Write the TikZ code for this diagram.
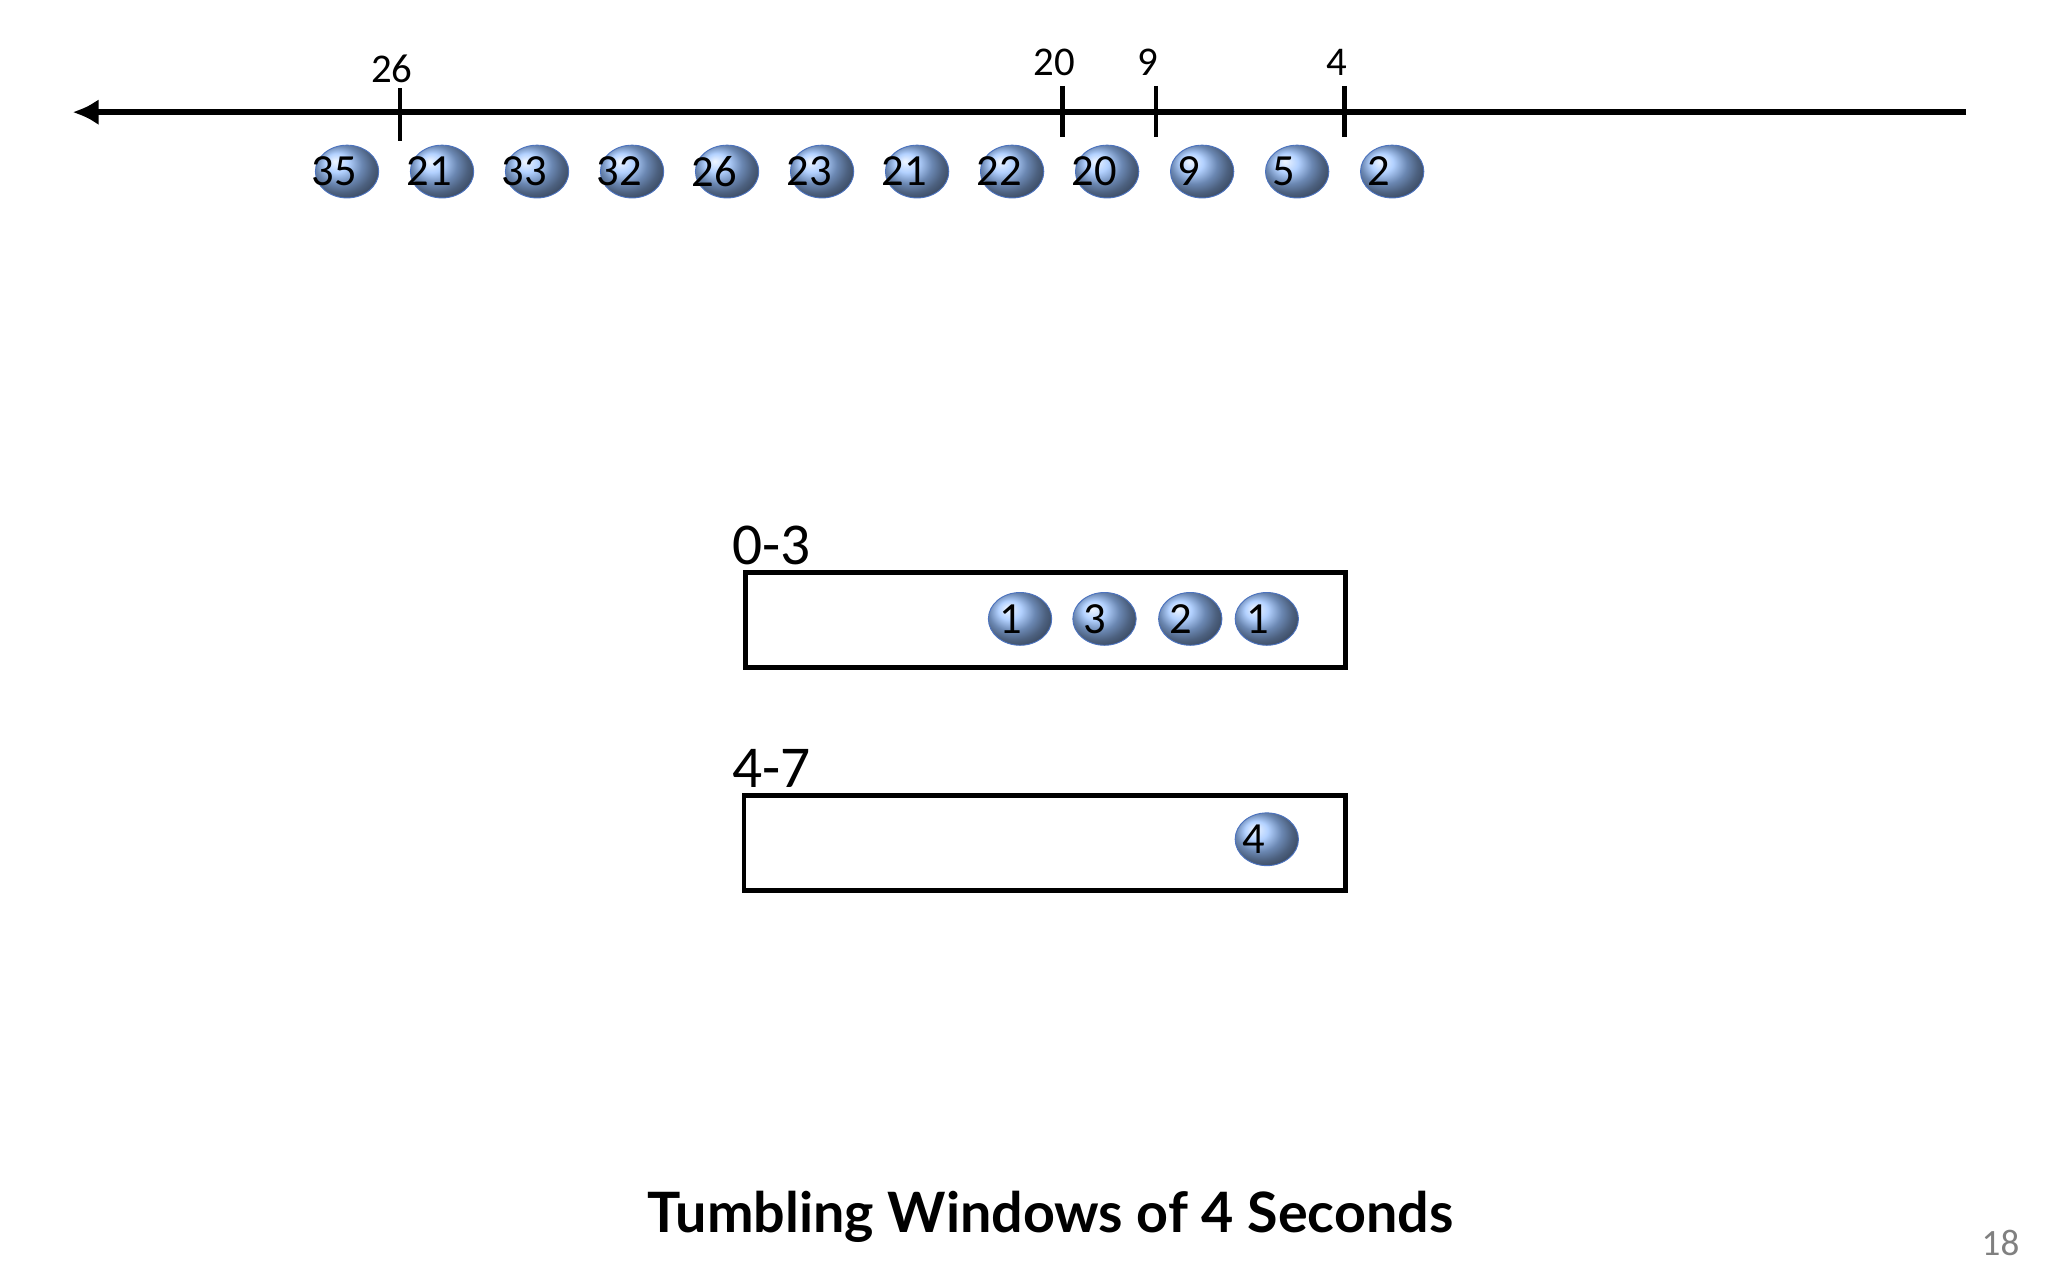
\documentclass[tikz,border=0pt]{standalone}
\usepackage{fontspec}
\usetikzlibrary{shapes.geometric,arrows.meta}
\setmainfont{Carlito}
\newfontfamily\titlefont{Lato}
\begin{document}
\begin{tikzpicture}[x=0.05cm,y=-0.05cm,
  ev/.style={ellipse,minimum width=48*0.05cm,minimum height=40*0.05cm,inner sep=0pt,draw={rgb,1:red,0.3;green,0.45;blue,0.75},line width=1pt,shading=ball,ball color={rgb,1:red,0.6;green,0.76;blue,1},font=\fontsize{48}{50}\selectfont,text=black},
  tl/.style={font=\fontsize{44}{46}\selectfont},
  tick/.style={line width=5pt},
  wl/.style={font=\fontsize{64}{66}\selectfont,anchor=south west,inner sep=0pt}]
\useasboundingbox (0,0) rectangle (1552,970);
\coordinate (ar) at (1490,85); \coordinate (al) at (55,85);
\draw[line width=7pt,-{Latex[length=28pt,width=28pt]}] (ar) -- (al);
\foreach \x/\a/\b/\l/\ly in {303/67/107/26/52,805/65/104/20/47,876/65/104/9/47,1019/65/104/4/47}{
  \coordinate (t\x a) at (\x,\a); \coordinate (t\x b) at (\x,\b);
  \draw[tick] (t\x a) -- (t\x b);
  \node[tl] (l\x) at (\x-6,\ly) {\l};}
\foreach \x/\v [count=\i] in {263/35,335/21,407/33,479/32,551/26,623/23,695/21,767/22,839/20,911/9,983/5,1055/2}{
  \node[ev,text width=0pt] (e\i) at (\x,130) {\hspace*{-14pt}\makebox[0pt]{\v}};}
\node[draw,line width=5pt,minimum width=455*0.05cm,minimum height=72*0.05cm,anchor=north west,inner sep=0pt] (w1) at (563,432) {};
\node[wl] (w1l) at (555,428) {0-3};
\foreach \x/\v [count=\i] in {773/1,837/3,902/2,960/1}{
  \node[ev,text width=0pt] (a\i) at (\x,469) {\hspace*{-10pt}\makebox[0pt]{\v}};}
\node[draw,line width=5pt,minimum width=456*0.05cm,minimum height=72*0.05cm,anchor=north west,inner sep=0pt] (w2) at (562,601) {};
\node[wl] (w2l) at (555,597) {4-7};
\node[ev,text width=0pt] (b1) at (960,636) {\hspace*{-14pt}\makebox[0pt]{4}};
\node[font=\titlefont\bfseries\fontsize{60}{62}\selectfont] (title) at (796,922) {Tumbling Windows of 4 Seconds};
\node[font=\fontsize{40}{42}\selectfont,text=gray] (pg) at (1516,942) {18};
\end{tikzpicture}
\end{document}
